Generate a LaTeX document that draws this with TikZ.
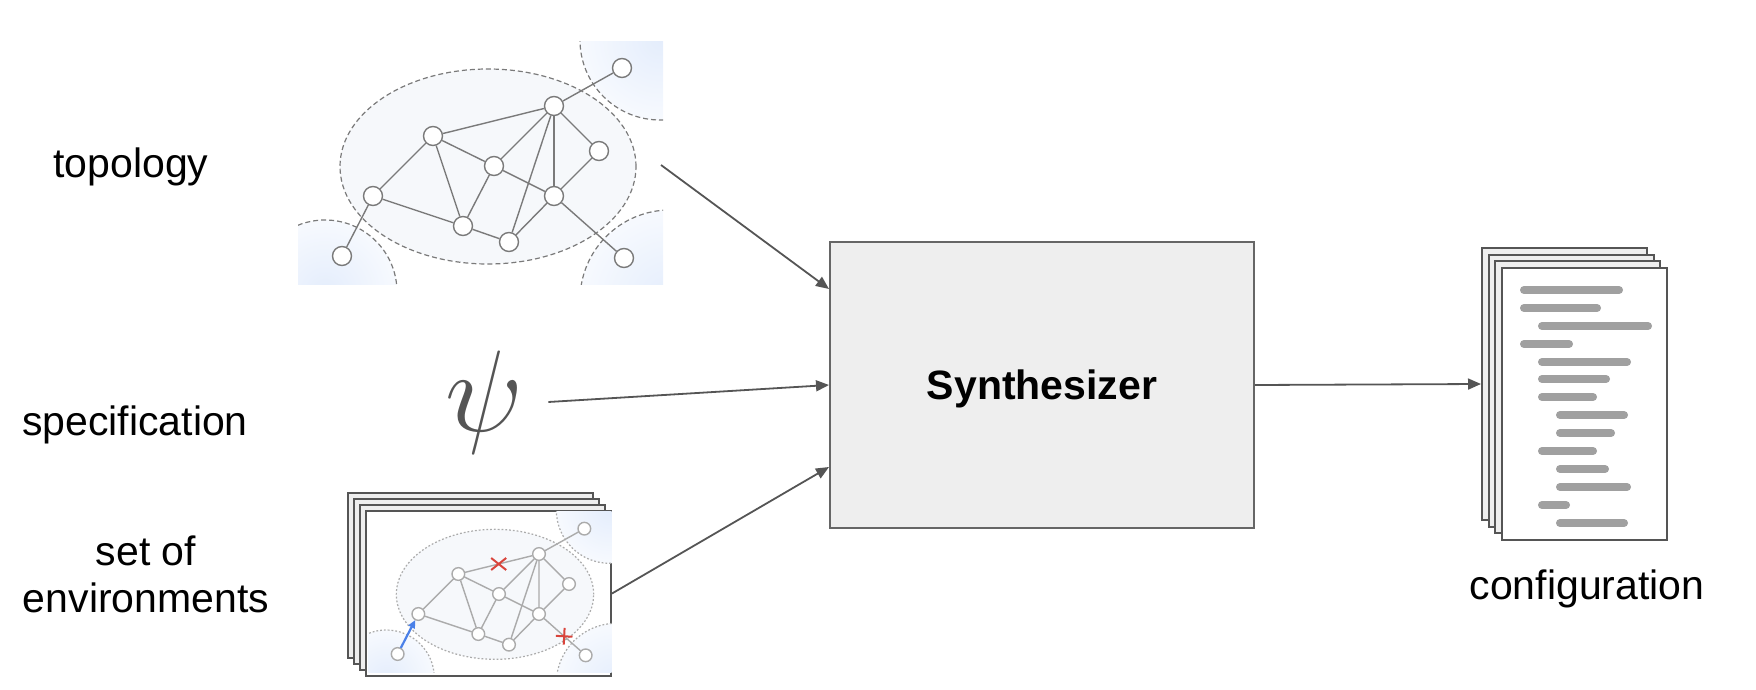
\documentclass[tikz,border=0pt]{standalone}
\usepackage{fix-cm}
\usepackage{fontspec}
\setmainfont{Liberation Sans}
\usetikzlibrary{arrows.meta,shapes.misc}

\definecolor{ink}{HTML}{555555}
\definecolor{boxfill}{HTML}{EEEEEE}
\definecolor{boxline}{HTML}{666666}
\definecolor{edgedark}{HTML}{7A7A7A}
\definecolor{edgelight}{HTML}{ABABAB}
\definecolor{blobfill}{HTML}{E4EDFC}
\definecolor{ovalfill}{HTML}{F6F8FB}
\definecolor{barcol}{HTML}{A0A0A0}
\definecolor{cutred}{HTML}{D9443B}
\definecolor{failblue}{HTML}{4A80E8}

\tikzset{
  lbl/.style={font=\fontsize{20.5}{23.5}\selectfont, inner sep=0pt},
  flow/.style={draw=ink, line width=0.9pt, -{Triangle[length=6.5pt,width=5.5pt]}},
  synthbox/.style={draw=boxline, fill=boxfill, line width=1pt,
    minimum width=212pt, minimum height=143pt, text depth=0pt,
    font=\fontsize{20.5}{23.5}\selectfont\bfseries},
  page/.style={draw=ink, line width=1pt, fill=boxfill, inner sep=0pt},
  netnode/.style={circle, fill=white, draw=#1, line width=0.7pt, minimum size=9.5pt, inner sep=0pt},
  netedge/.style={draw=#1, line width=0.7pt},
  bar/.style={draw=barcol, line width=4pt, line cap=round},
  cutmark/.style={cross out, draw=cutred, line width=1pt, inner sep=0pt},
  failarrow/.style={draw=failblue, line width=1.1pt, -{Triangle[length=4pt,width=3.5pt]}}
}

% network picture, drawn in its own frame: #1 prefix, #2 line colour, #3 dash pattern
\newcommand{\topoimg}[3]{%
  \begin{scope}
    \clip (298,42) rectangle (663,284);
    \foreach \cx/\cy/\r in {660/40/40, 325/292/36, 670/300/45} {
      \shade[inner color=blobfill, outer color=blobfill!30!white] (\cx,\cy) circle (\r pt);
      \draw[draw=#2, line width=0.6pt, #3] (\cx,\cy) circle (\r pt);
    }
    \draw[fill=ovalfill, draw=#2, line width=0.6pt, #3] (488,166.5) ellipse [x radius=74pt, y radius=48.75pt];
  \end{scope}
  \foreach \n/\x/\y in {a/554/106, b/433/136, c/494/166, d/599/151, e/373/196, f/554/196,
                        g/463/226, h/509/242, i/622/68, j/342/256, k/624/258}
    \node[netnode=#2] (#1-\n) at (\x,\y) {};
  \foreach \s/\t in {e/b, e/g, b/a, b/c, b/g, c/a, c/g, c/f, a/h, a/f, a/d, a/i, d/f, f/h, f/k, g/h}
    \draw[netedge=#2] (#1-\s) -- (#1-\t);
}

\begin{document}
\begin{tikzpicture}[x=0.5pt, y=-0.5pt]
  \useasboundingbox (0,0) rectangle (1756,690);

  % labels on the left
  \node[lbl, anchor=base] (topo-lbl) at (131,177) {topology};
  \node[lbl, anchor=base] (spec-lbl) at (135,435) {specification};
  \node[lbl, anchor=south, align=center] (env-lbl) at (146,613) {set of\\environments};

  % topology
  \topoimg{topo}{edgedark}{dash pattern=on 2.5pt off 1.5pt}
  \draw[netedge=edgedark] (topo-j) -- (topo-e);
  \coordinate (topo-out) at (661,165);

  % specification
  \node[font=\fontsize{58}{60}\selectfont, text=ink, inner xsep=12.5pt, inner ysep=0pt] (psi) at (484,402) {$\psi$};

  % set of environments
  \foreach \k in {0,1,2}
    \node[page, minimum width=122.5pt, minimum height=82.5pt] (envpage\k) at (470.5+6*\k, 575.5+6*\k) {};
  \node[page, fill=white, minimum width=122.5pt, minimum height=82.5pt] (envpage3) at (488.5,593.5) {};
  \begin{scope}[shift={(539,554)}, scale=2/3, shift={(-554,-106)}, transform shape]
    \topoimg{env}{edgelight}{dash pattern=on 0.9pt off 1pt}
  \end{scope}
  \draw[failarrow] (env-j) -- (env-e);
  \path (env-b) -- (env-a) coordinate[pos=0.5] (env-cut1);
  \path (env-f) -- (env-k) coordinate[pos=0.55] (env-cut2);
  \node[cutmark, minimum width=6.5pt, minimum height=5pt] at (env-cut1) {};
  \node[cutmark, minimum size=4.9pt, rotate=42] at (env-cut2) {};

  % synthesizer
  \node[synthbox] (synth) at (1042,385) {Synthesizer};

  % configuration
  \foreach \k in {0,1,2}
    \node[page, minimum width=82.5pt, minimum height=136pt] (cfg\k) at (1564.5+6.6*\k, 384+6.6*\k) {};
  \node[page, fill=white, minimum width=82.5pt, minimum height=136pt] (cfg3) at (1584.3,403.8) {};
  \foreach \xa/\xb/\y in {1520/1623/290, 1520/1601/308, 1538/1652/326, 1520/1573/344,
                          1538/1631/362, 1538/1610/379, 1538/1597/397, 1556/1628/415,
                          1556/1615/433, 1538/1597/451, 1556/1609/469, 1556/1631/487,
                          1538/1570/505, 1556/1628/523}
    \draw[bar] (\xa+4,\y) -- (\xb-4,\y);
  \node[lbl, anchor=base] (cfg-lbl) at (1587,599) {configuration};

  % arrows
  \draw[flow] (topo-out) -- ([yshift=-24pt]synth.north west);
  \draw[flow] (psi.east) -- (synth.west);
  \draw[flow] (envpage3.east) -- ([yshift=31pt]synth.south west);
  \draw[flow] (synth.east) -- (cfg0.west);
\end{tikzpicture}
\end{document}
